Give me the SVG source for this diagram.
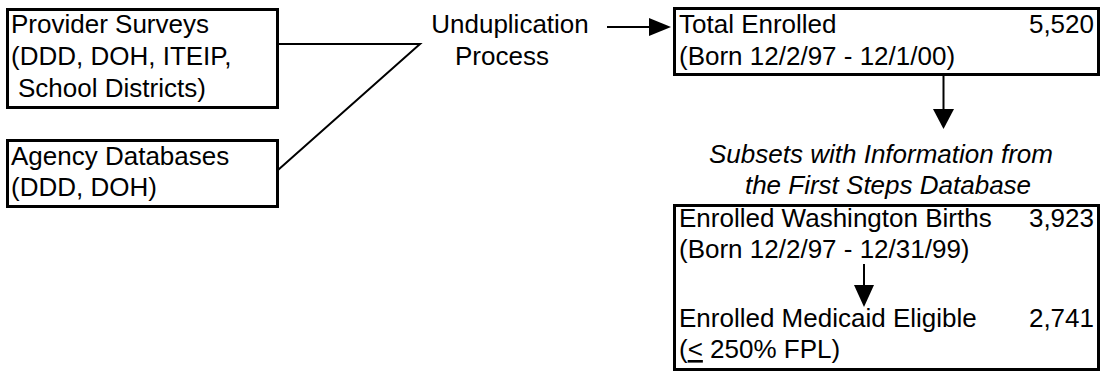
<svg xmlns="http://www.w3.org/2000/svg" width="1102" height="372" viewBox="0 0 1102 372">
<style>
text{font-family:"Liberation Sans",Arial,sans-serif;font-size:26px;fill:#000}
.it{font-style:italic}
.box{fill:#fff;stroke:#000;stroke-width:3}
.ln{stroke:#000;stroke-width:2;fill:none}
.ah{fill:#000}
</style>
<rect width="1102" height="372" fill="#fff"/>
<g id="provider-surveys">
<rect class="box" x="7.5" y="9.5" width="270" height="98"/>
<text x="11" y="33">Provider Surveys</text>
<text x="11" y="65">(DDD, DOH, ITEIP,</text>
<text x="18" y="97">School Districts)</text>
</g>
<g id="agency-databases">
<rect class="box" x="7.5" y="140.5" width="270" height="66"/>
<text x="11" y="165">Agency Databases</text>
<text x="11" y="196">(DDD, DOH)</text>
</g>
<g id="unduplication">
<text x="510" y="33" text-anchor="middle">Unduplication</text>
<text x="502" y="65" text-anchor="middle">Process</text>
</g>
<g id="total-enrolled">
<rect class="box" x="674.5" y="8.5" width="424" height="66"/>
<text x="679" y="33">Total Enrolled</text>
<text x="1094" y="33" text-anchor="end">5,520</text>
<text x="679" y="65">(Born 12/2/97 - 12/1/00)</text>
</g>
<g id="subsets-label">
<text class="it" x="881" y="163" text-anchor="middle">Subsets with Information from</text>
<text class="it" x="888" y="194" text-anchor="middle">the First Steps Database</text>
</g>
<g id="subsets">
<rect class="box" x="674.5" y="205.5" width="424" height="164"/>
<text x="679" y="227">Enrolled Washington Births</text>
<text x="1094" y="227" text-anchor="end">3,923</text>
<text x="679" y="258">(Born 12/2/97 - 12/31/99)</text>
<text x="679" y="327">Enrolled Medicaid Eligible</text>
<text x="1094" y="327" text-anchor="end">2,741</text>
<text x="679" y="358">(<tspan text-decoration="underline">&lt;</tspan> 250% FPL)</text>
</g>
<g id="connectors">
<path class="ln" d="M278 44 L420 44 L278 170"/>
<line class="ln" x1="607" y1="27" x2="651" y2="27"/>
<polygon class="ah" points="649,18 671,27 649,36"/>
<line class="ln" x1="943.5" y1="75" x2="943.5" y2="111"/>
<polygon class="ah" points="933,109 954,109 943.5,129"/>
<line class="ln" x1="864" y1="264" x2="864" y2="287"/>
<polygon class="ah" points="854,285 874,285 864,307"/>
</g>
</svg>
